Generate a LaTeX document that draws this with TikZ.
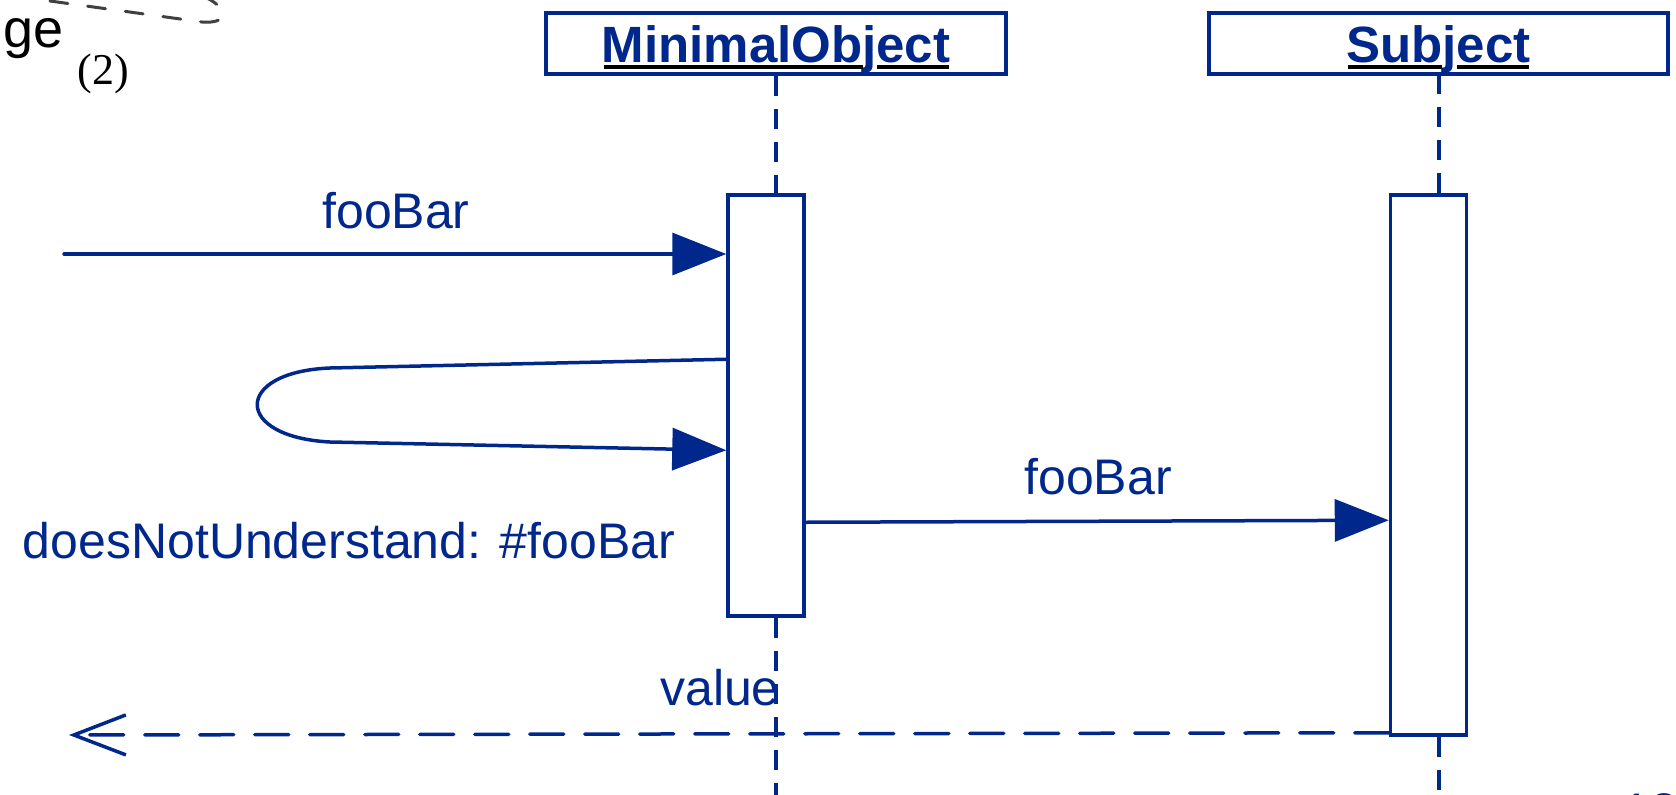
\documentclass[tikz,border=0pt]{standalone}
\usepackage{fontspec}
\setmainfont{Liberation Sans}
\newfontfamily\timesfam{Liberation Serif}
\usetikzlibrary{arrows.meta,calc}
\definecolor{umlblue}{RGB}{0,40,140}
\begin{document}
\begin{tikzpicture}[x=1pt,y=-1pt,
  objbox/.style={draw=umlblue, line width=3.5pt, inner sep=0pt, minimum width=460pt, minimum height=61pt},
  actbox/.style={draw=umlblue, fill=white, line width=3.5pt, inner sep=0pt, minimum width=76pt},
  objlabel/.style={text=umlblue, font=\fontsize{51}{60}\selectfont\bfseries, inner sep=0pt, anchor=base},
  msglabel/.style={text=umlblue, font=\fontsize{50}{60}\selectfont, inner sep=0pt, anchor=base},
  lifeline/.style={draw=umlblue, line width=3.5pt, dash pattern=on 20pt off 13pt},
  msg/.style={draw=umlblue, line width=3.5pt, line cap=round, -{Triangle[length=54pt,width=42pt]}},
  ret/.style={draw=umlblue, line width=3.5pt, line cap=round, dash pattern=on 34pt off 21pt,
    -{Straight Barb[length=52pt,width=40pt,line width=3.5pt]}},
  uline/.style={draw=black, line width=3.5pt}]
\useasboundingbox (0,0) rectangle (1676,795);
\fill[white] (0,0) rectangle (1676,795);

% fragment of a figure at the top left
\draw[black!75, line width=3pt, dash pattern=on 18pt off 20pt, line cap=round]
  (50,1) -- (202,22) .. controls (228,24) and (230,10) .. (207,-2);
\node[font=\fontsize{54}{60}\selectfont, text=black, inner sep=0pt, anchor=base west] (ge) at (3,47) {ge};
\node[font=\timesfam\fontsize{44}{50}\selectfont, text=black, inner sep=0pt] (two) at (103,74) {(2)};

% objects
\node[objbox] (mo) at (776,43.5) {};
\node[objbox, minimum width=459pt] (sub) at (1438.5,43.5) {};
\node[objlabel] (motext) at (776,62) {MinimalObject};
\node[objlabel] (subtext) at (1438.5,62) {Subject};
\draw[uline] (604,67) -- (863,67) (877,67) -- (949,67);
\draw[uline] (1348,67) -- (1442,67) (1457,67) -- (1529,67);

% activations
\node[actbox, minimum height=421pt] (moact) at (766,405.5) {};
\node[actbox, minimum height=540pt] (sact) at (1428.5,465) {};

% lifelines
\coordinate (mobot) at (776,795);
\coordinate (sbot) at (1439,795);
\draw[lifeline] (mo.south) -- (mo.south |- moact.north);
\draw[lifeline] (mo.south |- moact.south) -- (mobot);
\draw[lifeline] (1439,74) -- (1439,195);
\draw[lifeline] (sbot |- sact.south) -- (sbot);

% messages
\coordinate (src) at (64,254);
\draw[msg] (src) -- (src -| moact.west);
\node[msglabel] (l1) at (396,228) {fooBar};

\draw[msg] ($(moact.north west)+(0,166)$) -- (330,368)
  .. controls (233,372) and (233,437) .. (330,442) -- ($(moact.north west)+(0,257)$);
\node[msglabel] (l2) at (349,558) {doesNotUnderstand: \#fooBar};

\draw[msg] ($(moact.north east)+(0,329)$) -- ($(sact.north west)+(0,327)$);
\node[msglabel] (l3) at (1098,494) {fooBar};

\coordinate (dst) at (69,735);
\draw[ret] ($(sact.south west)+(0,-4)$) -- (dst);
\node[msglabel] (l4) at (720,705) {value};

% page number fragment
\node[msglabel, anchor=base west] (pg) at (1622,828) {13};
\end{tikzpicture}
\end{document}
